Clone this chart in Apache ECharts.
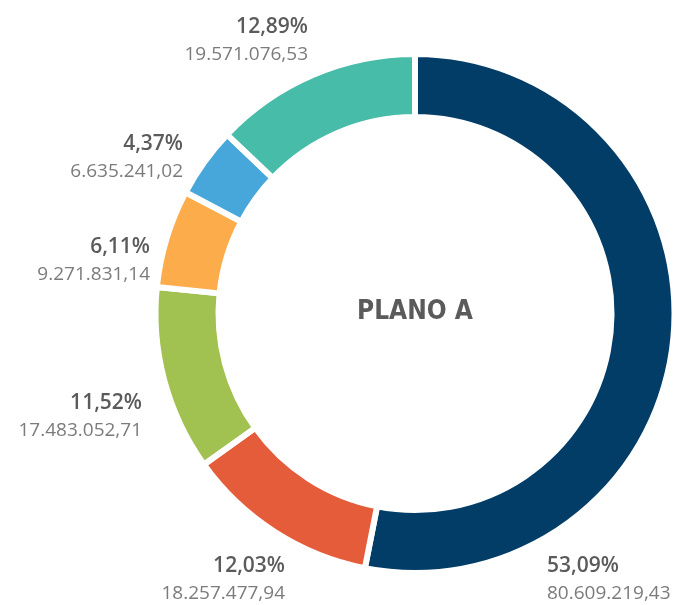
<!DOCTYPE html>
<html>
<head>
<meta charset="utf-8">
<script src="https://cdn.jsdelivr.net/npm/echarts@6/dist/echarts.min.js"></script>
<style>
html,body{margin:0;padding:0;background:#fff;}
#chart{width:690px;height:605px;}
</style>
</head>
<body>
<div id="chart"></div>
<script>
var categories = ['Dark blue', 'Orange', 'Green', 'Yellow', 'Blue', 'Teal'];
var values = [80609219.43, 18257477.94, 17483052.71, 9271831.14, 6635241.02, 19571076.53];
var pctLabels = ['53,09%', '12,03%', '11,52%', '6,11%', '4,37%', '12,89%'];
var valueLabels = ['80.609.219,43', '18.257.477,94', '17.483.052,71', '9.271.831,14', '6.635.241,02', '19.571.076,53'];
var colors = ['#023d68', '#e45c3a', '#a1c150', '#fcac4a', '#47a6da', '#47bca8'];
var centerTitle = 'PLANO A';

// label anchor positions (layout, not data)
var labelPos = [
  {x: 547, y: 580, align: 'left'},
  {x: 285, y: 580, align: 'right'},
  {x: 142, y: 417, align: 'right'},
  {x: 150, y: 261, align: 'right'},
  {x: 183, y: 158, align: 'right'},
  {x: 308, y: 41, align: 'right'}
];

var chart = echarts.init(document.getElementById('chart'), null, {renderer: 'canvas'});

var data = categories.map(function (c, i) {
  return {
    name: c,
    value: values[i],
    itemStyle: {color: colors[i]},
    label: {align: labelPos[i].align}
  };
});

chart.setOption({
  animation: false,
  backgroundColor: '#ffffff',
  graphic: [{
    type: 'text',
    x: 415,
    y: 312,
    style: {
      text: centerTitle,
      fill: '#5b5b5b',
      font: 'bold 26px "DejaVu Sans Condensed", "DejaVu Sans", sans-serif',
      align: 'center',
      verticalAlign: 'middle'
    }
  }],
  series: [{
    type: 'pie',
    center: [415, 313.5],
    radius: [196.5, 259.5],
    startAngle: 90,
    clockwise: true,
    silent: true,
    avoidLabelOverlap: false,
    itemStyle: {borderColor: '#ffffff', borderWidth: 6},
    labelLine: {show: false},
    label: {
      show: true,
      position: 'outside',
      formatter: function (p) {
        return '{p|' + pctLabels[p.dataIndex] + '}\n{v|' + valueLabels[p.dataIndex] + '}';
      },
      rich: {
        p: {fontFamily: '"Open Sans", sans-serif', fontWeight: 600, fontSize: 21, color: '#5b5b5b', lineHeight: 28},
        v: {fontFamily: '"Open Sans", sans-serif', fontWeight: 400, fontSize: 19, color: '#7b7b7b', lineHeight: 28}
      }
    },
    labelLayout: function (params) {
      var lp = labelPos[params.dataIndex];
      return {x: lp.x, y: lp.y, align: lp.align, verticalAlign: 'middle'};
    },
    data: data
  }]
});
</script>
</body>
</html>
